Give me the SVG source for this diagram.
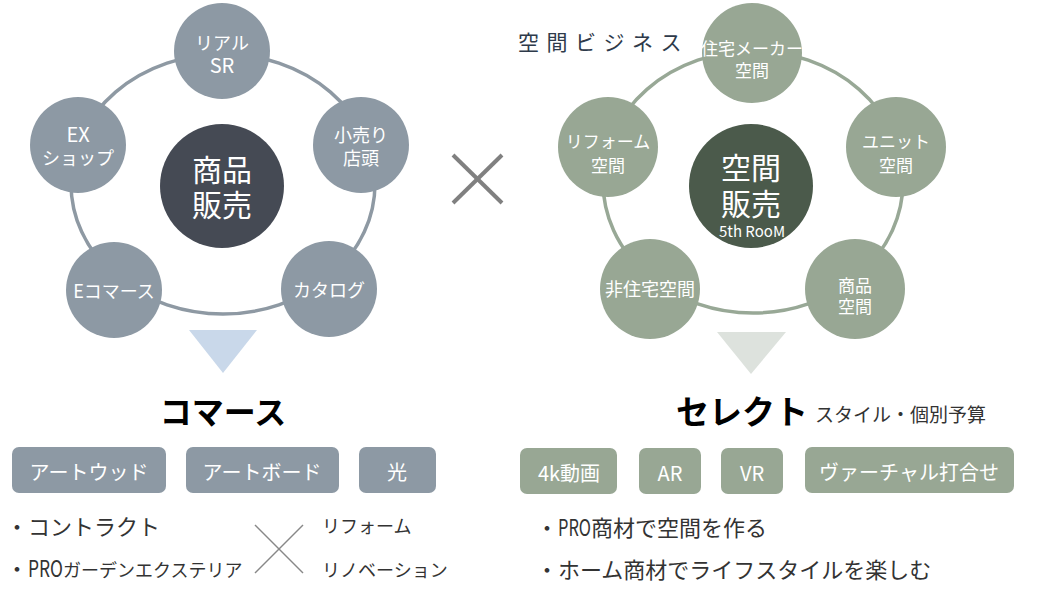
<svg xmlns="http://www.w3.org/2000/svg" width="1042" height="589" viewBox="0 0 1042 589">
<style>
.ringL{fill:none;stroke:#8e99a3;stroke-width:3.5}
.ringR{fill:none;stroke:#98a896;stroke-width:3.5}
.nodeL{fill:#8d99a4}
.nodeR{fill:#98a794}
.centerL{fill:#454a54}
.centerR{fill:#4b5a4b}
text{font-family:"Noto Sans CJK JP","Noto Sans",sans-serif}
.lbl{fill:#fff;text-anchor:middle;font-size:18px}
.big{fill:#fff;text-anchor:middle;font-size:30px}
.title{fill:#000;font-size:32px;font-weight:bold;text-anchor:middle}
.btnL{fill:#8d99a4}
.btnR{fill:#98a794}
.btxt{fill:#fff;font-size:20px;text-anchor:middle}
.bul{fill:#333;font-size:22px}
.sub{fill:#333;font-size:18px}
.pro{font-size:23px}
</style>
<rect width="1042" height="589" fill="#fff"/>
<g id="connectors">
  <ellipse class="ringL" cx="223" cy="184" rx="152" ry="130"/>
  <ellipse class="ringR" cx="753" cy="182" rx="150" ry="131"/>
</g>

<g id="left-center"><circle class="centerL" cx="222" cy="186" r="62"/>
  <text class="big" x="222" y="181">商品<tspan x="222" dy="35">販売</tspan></text></g>
<g id="node-real-sr"><circle class="nodeL" cx="222" cy="51" r="48"/>
  <text class="lbl" x="222" y="50">リアル</text><text class="lbl" x="222" y="73" style="font-size:20px">SR</text></g>
<g id="node-kouri"><circle class="nodeL" cx="361" cy="145" r="48"/>
  <text class="lbl" x="361" y="142">小売り</text><text class="lbl" x="361" y="165">店頭</text></g>
<g id="node-ex"><circle class="nodeL" cx="78" cy="145" r="48"/>
  <text class="lbl" x="78" y="142" style="font-size:20px">EX</text><text class="lbl" x="78" y="165">ショップ</text></g>
<g id="node-ecommerce"><circle class="nodeL" cx="114" cy="290" r="48"/>
  <text class="lbl" x="114" y="298">Eコマース</text></g>
<g id="node-catalog"><circle class="nodeL" cx="329" cy="289" r="48"/>
  <text class="lbl" x="329" y="297">カタログ</text></g>

<g id="cross-mid">
  <line x1="453" y1="155" x2="502" y2="203" stroke="#808080" stroke-width="4"/>
  <line x1="502" y1="155" x2="453" y2="203" stroke="#808080" stroke-width="4"/>
</g>

<text x="518" y="50" style="font-size:21px;letter-spacing:7.5px;fill:#2e3a4a">空間ビジネス</text>

<g id="right-center"><circle class="centerR" cx="751" cy="186" r="62"/>
  <text class="big" x="751" y="179">空間<tspan x="751" dy="36">販売</tspan></text>
  <text x="752" y="237" style="fill:#fff;font-size:15px;text-anchor:middle">5th RooM</text></g>
<g id="node-jutaku"><circle class="nodeR" cx="752" cy="53" r="50"/>
  <text class="lbl" x="752" y="55" style="font-size:17px">住宅メーカー</text><text class="lbl" x="752" y="77" style="font-size:17px">空間</text></g>
<g id="node-reform"><circle class="nodeR" cx="608" cy="147" r="50"/>
  <text class="lbl" x="608" y="148" style="font-size:17px">リフォーム</text><text class="lbl" x="608" y="172" style="font-size:17px">空間</text></g>
<g id="node-unit"><circle class="nodeR" cx="896" cy="147" r="50"/>
  <text class="lbl" x="896" y="148" style="font-size:17px">ユニット</text><text class="lbl" x="896" y="172" style="font-size:17px">空間</text></g>
<g id="node-hijutaku"><circle class="nodeR" cx="650" cy="289" r="50"/>
  <text class="lbl" x="650" y="296">非住宅空間</text></g>
<g id="node-shohin"><circle class="nodeR" cx="855" cy="289" r="50"/>
  <text class="lbl" x="855" y="292" style="font-size:17px">商品</text><text class="lbl" x="855" y="313" style="font-size:17px">空間</text></g>

<polygon points="189,330 257,330 223,373" fill="#c9d8ea"/>
<polygon points="717,332 786,332 751,374" fill="#dde2dd"/>

<text class="title" x="223" y="424">コマース</text>
<g id="btn-artwood"><rect class="btnL" x="12" y="447" width="154" height="46" rx="7"/><text class="btxt" x="89" y="480">アートウッド</text></g>
<g id="btn-artboard"><rect class="btnL" x="186" y="447" width="153" height="46" rx="7"/><text class="btxt" x="262" y="480">アートボード</text></g>
<g id="btn-hikari"><rect class="btnL" x="359" y="447" width="77" height="46" rx="7"/><text class="btxt" x="397" y="480">光</text></g>

<text class="bul" x="6" y="535">・コントラクト</text>
<text class="bul" x="6" y="577">・<tspan class="pro" textLength="35" lengthAdjust="spacingAndGlyphs">PRO</tspan><tspan style="font-size:18px">ガーデンエクステリア</tspan></text>
<line x1="255" y1="525" x2="303" y2="573" stroke="#888" stroke-width="1.5"/>
<line x1="303" y1="525" x2="255" y2="573" stroke="#888" stroke-width="1.5"/>
<text class="sub" x="322" y="533">リフォーム</text>
<text class="sub" x="322" y="577">リノベーション</text>

<text class="title" x="742" y="424" style="font-size:33px">セレクト</text>
<text x="815" y="422" style="fill:#333;font-size:19px">スタイル・個別予算</text>
<g id="btn-4k"><rect class="btnR" x="520" y="448" width="97" height="46" rx="7"/><text class="btxt" x="569" y="481">4k動画</text></g>
<g id="btn-ar"><rect class="btnR" x="639" y="448" width="62" height="46" rx="7"/><text class="btxt" x="670" y="481">AR</text></g>
<g id="btn-vr"><rect class="btnR" x="721" y="448" width="62" height="46" rx="7"/><text class="btxt" x="752" y="481">VR</text></g>
<g id="btn-virtual"><rect class="btnR" x="805" y="447" width="209" height="46" rx="7"/><text class="btxt" x="909" y="480">ヴァーチャル打合せ</text></g>

<text class="bul" x="536" y="536">・<tspan class="pro" textLength="33" lengthAdjust="spacingAndGlyphs">PRO</tspan>商材で空間を作る</text>
<text class="bul" x="536" y="578">・ホーム商材でライフスタイルを楽しむ</text>
</svg>
